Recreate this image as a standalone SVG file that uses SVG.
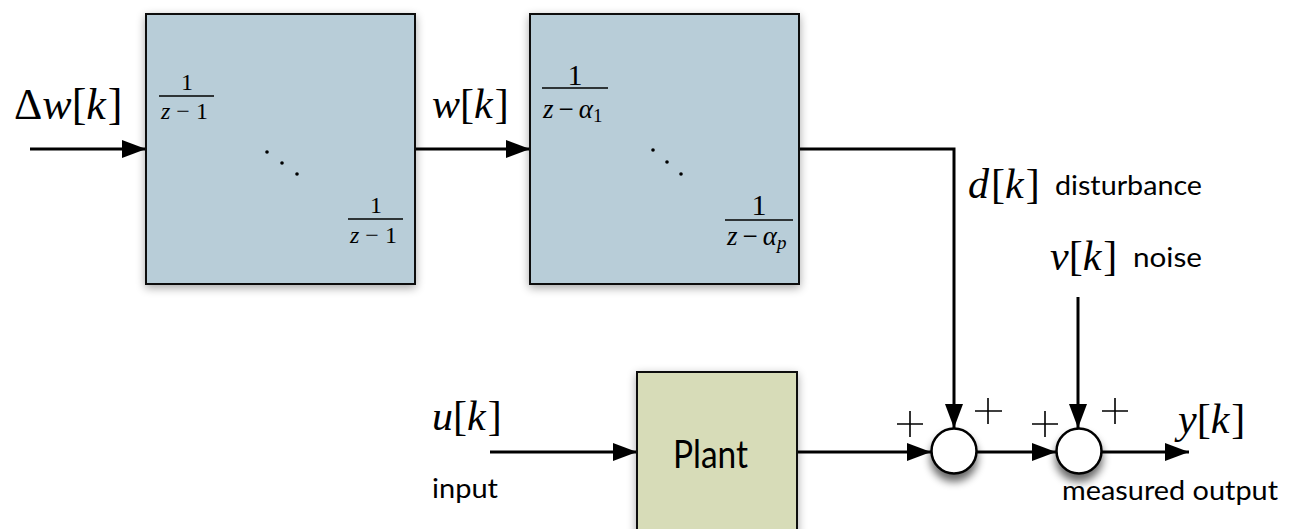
<svg xmlns="http://www.w3.org/2000/svg" width="1295" height="529" viewBox="0 0 1295 529">
<style>
.math{font-family:"Liberation Serif","Times New Roman",serif;fill:#000}
.it{font-style:italic}
.lbl{font-family:"Lato","Open Sans",sans-serif;fill:#000}
.blk{fill:#b8cdd8;stroke:#111;stroke-width:2}
.plant{fill:#d7dcb8;stroke:#111;stroke-width:2}
.sum{fill:#fff;stroke:#000;stroke-width:2.5}
.wire{fill:none;stroke:#000;stroke-width:3}
.bar{stroke:#000;stroke-width:1.3}
.plus{stroke:#000;stroke-width:1.6}
</style>
<defs>
<marker id="ah" viewBox="0 0 24 18" refX="24" refY="9" markerWidth="24" markerHeight="18" markerUnits="userSpaceOnUse" orient="auto">
<path d="M0,0 L24,9 L0,18 Z" fill="#000"/>
</marker>
<filter id="sh" x="-20%" y="-20%" width="140%" height="140%">
<feGaussianBlur in="SourceAlpha" stdDeviation="5"/>
<feOffset dx="0" dy="3" result="b"/>
<feComponentTransfer><feFuncA type="linear" slope="0.35"/></feComponentTransfer>
<feMerge><feMergeNode/><feMergeNode in="SourceGraphic"/></feMerge>
</filter>
<filter id="csh" x="-60%" y="-60%" width="220%" height="240%">
<feGaussianBlur in="SourceAlpha" stdDeviation="4"/>
<feOffset dx="0" dy="7" result="b"/>
<feComponentTransfer><feFuncA type="linear" slope="0.6"/></feComponentTransfer>
<feMerge><feMergeNode/><feMergeNode in="SourceGraphic"/></feMerge>
</filter>
</defs>
<rect width="1295" height="529" fill="#fff"/>

<g id="connectors">
<line class="wire" x1="30" y1="149" x2="146" y2="149" marker-end="url(#ah)"/>
<line class="wire" x1="415" y1="149" x2="530" y2="149" marker-end="url(#ah)"/>
<polyline class="wire" points="799,149 954,149 954,428" marker-end="url(#ah)"/>
<line class="wire" x1="1078" y1="297" x2="1078" y2="428" marker-end="url(#ah)"/>
<line class="wire" x1="490" y1="452" x2="637" y2="452" marker-end="url(#ah)"/>
<line class="wire" x1="797" y1="452" x2="931" y2="452" marker-end="url(#ah)"/>
<line class="wire" x1="977" y1="452" x2="1056" y2="452" marker-end="url(#ah)"/>
<line class="wire" x1="1101" y1="452" x2="1189" y2="452" marker-end="url(#ah)"/>
</g>

<g id="integrators">
<rect class="blk" x="146" y="14" width="269" height="270" filter="url(#sh)"/>
<text class="math" x="187" y="90" font-size="24" text-anchor="middle">1</text>
<line class="bar" x1="159" y1="96" x2="214" y2="96"/>
<text class="math" x="161" y="119" font-size="24"><tspan class="it">z</tspan><tspan dx="6">−</tspan><tspan dx="6">1</tspan></text>
<circle cx="267" cy="152" r="1.8"/><circle cx="282" cy="163" r="1.8"/><circle cx="297" cy="174" r="1.8"/>
<text class="math" x="376" y="213" font-size="24" text-anchor="middle">1</text>
<line class="bar" x1="348" y1="219" x2="403" y2="219"/>
<text class="math" x="350" y="243" font-size="24"><tspan class="it">z</tspan><tspan dx="6">−</tspan><tspan dx="6">1</tspan></text>
</g>

<g id="disturbance-model">
<rect class="blk" x="530" y="14" width="269" height="270" filter="url(#sh)"/>
<text class="math" x="575" y="85" font-size="30" text-anchor="middle">1</text>
<line class="bar" x1="542" y1="88" x2="608" y2="88"/>
<text class="math" x="543" y="118" font-size="27"><tspan class="it">z</tspan><tspan dx="5">−</tspan><tspan class="it" dx="5">α</tspan><tspan font-size="19" dy="4">1</tspan></text>
<circle cx="653" cy="150" r="1.8"/><circle cx="667" cy="162" r="1.8"/><circle cx="681" cy="174" r="1.8"/>
<text class="math" x="759" y="215" font-size="30" text-anchor="middle">1</text>
<line class="bar" x1="725" y1="220" x2="793" y2="220"/>
<text class="math" x="727" y="245" font-size="27"><tspan class="it">z</tspan><tspan dx="5">−</tspan><tspan class="it" dx="5">α</tspan><tspan class="it" font-size="19" dy="4">p</tspan></text>
</g>

<g id="plant">
<rect class="plant" x="637" y="372" width="160" height="175" filter="url(#sh)"/>
<text class="lbl" x="673" y="468" font-size="38" textLength="75" lengthAdjust="spacingAndGlyphs">Plant</text>
</g>

<g id="sum1">
<circle class="sum" cx="954" cy="451" r="22.5" filter="url(#csh)"/>
<path class="plus" d="M897,424 H923 M910,411 V437 M975,411 H1002 M988,398 V424"/>
</g>

<g id="sum2">
<circle class="sum" cx="1079" cy="451" r="22.5" filter="url(#csh)"/>
<path class="plus" d="M1032,424 H1058 M1045,411 V437 M1102,411 H1128 M1115,398 V424"/>
</g>

<g id="labels">
<text class="math" x="14" y="119" font-size="44">Δ<tspan class="it">w</tspan>[<tspan class="it">k</tspan><tspan dx="2">]</tspan></text>
<text class="math" x="432" y="118" font-size="42"><tspan class="it">w</tspan>[<tspan class="it">k</tspan><tspan dx="2">]</tspan></text>
<text class="math" x="968" y="198" font-size="42"><tspan class="it">d</tspan><tspan dx="2">[</tspan><tspan class="it">k</tspan><tspan dx="2">]</tspan></text>
<text class="lbl" x="1055" y="195" font-size="27" textLength="147" lengthAdjust="spacingAndGlyphs">disturbance</text>
<text class="math" x="1050" y="270" font-size="42"><tspan class="it">v</tspan>[<tspan class="it">k</tspan><tspan dx="2">]</tspan></text>
<text class="lbl" x="1133" y="267" font-size="27" textLength="69" lengthAdjust="spacingAndGlyphs">noise</text>
<text class="math" x="432" y="430" font-size="42"><tspan class="it">u</tspan>[<tspan class="it">k</tspan><tspan dx="2">]</tspan></text>
<text class="lbl" x="432" y="498" font-size="27" textLength="66" lengthAdjust="spacingAndGlyphs">input</text>
<text class="math" x="1178" y="433" font-size="42"><tspan class="it">y</tspan>[<tspan class="it">k</tspan><tspan dx="2">]</tspan></text>
<text class="lbl" x="1062" y="500" font-size="27" textLength="216" lengthAdjust="spacingAndGlyphs">measured output</text>
</g>
</svg>
